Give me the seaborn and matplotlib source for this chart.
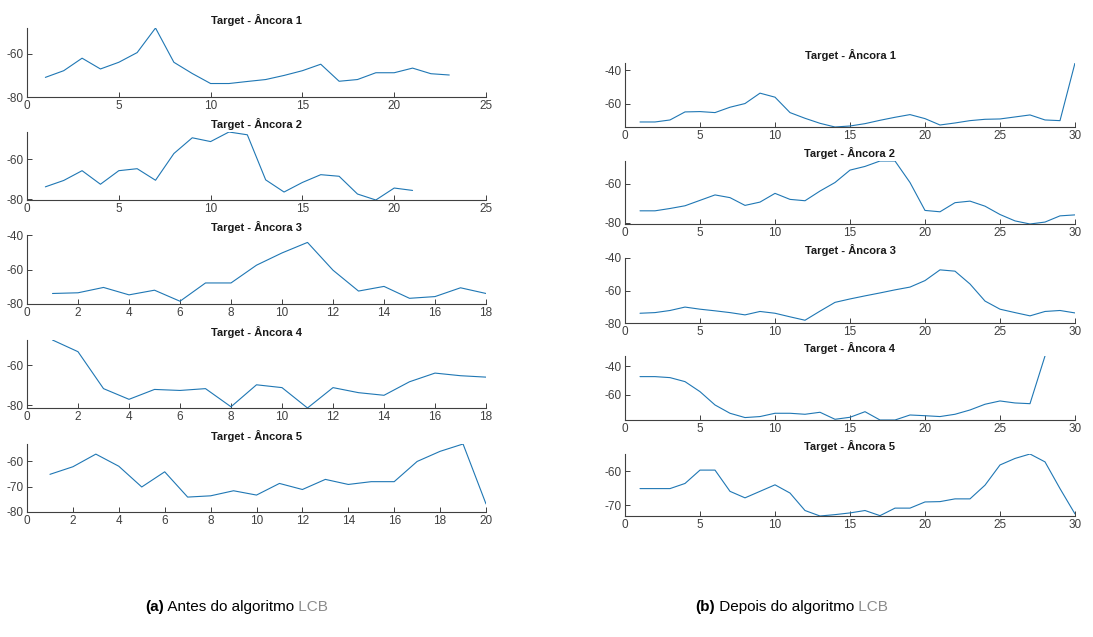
import matplotlib
matplotlib.use("Agg")
import matplotlib.pyplot as plt
import seaborn as sns
from matplotlib.ticker import MultipleLocator

# RSSI readings (dBm) before the LCB algorithm
antes_1 = [-70.9, -67.8, -62.0, -67.0, -63.9, -59.4, -48.0, -63.9, -69.1, -73.75, -73.75, -72.8,
           -71.9, -70.0, -67.8, -64.8, -72.7, -71.9, -68.75, -68.75, -66.6, -69.2, -69.8]
antes_2 = [-73.9, -70.7, -65.8, -72.6, -65.8, -64.8, -70.6, -57.2, -49.3, -51.2, -46.4, -47.8,
           -70.4, -76.5, -71.7, -67.8, -68.6, -77.5, -80.5, -74.5, -75.7]
antes_3 = [-73.9, -73.5, -70.4, -74.7, -72.0, -78.4, -67.8, -67.8, -57.5, -50.4, -44.3, -60.4,
           -72.5, -69.8, -76.7, -75.7, -70.6, -73.9]
antes_4 = [-47.6, -53.4, -71.7, -77.0, -72.1, -72.6, -71.7, -80.7, -69.8, -71.2, -81.3, -71.2,
           -73.7, -75.0, -68.3, -64.0, -65.3, -66.0]
antes_5 = [-65.1, -62.1, -57.1, -61.9, -70.1, -64.1, -74.1, -73.6, -71.6, -73.3, -68.7, -71.1,
           -67.1, -69.1, -68.0, -68.0, -60.0, -56.0, -53.1, -76.8]

# RSSI readings (dBm) after the LCB algorithm
depois_1 = [-70.8, -70.8, -69.6, -64.8, -64.6, -65.2, -62.0, -59.8, -53.6, -56.0, -65.2, -68.6,
            -71.6, -73.8, -73.2, -71.8, -69.8, -68.0, -66.4, -68.8, -72.6, -71.4, -70.0, -69.2,
            -69.0, -67.8, -66.6, -69.6, -70.0, -35.6]
depois_2 = [-73.9, -73.9, -72.7, -71.3, -68.5, -65.7, -67.1, -71.1, -69.4, -64.9, -68.0, -68.7,
            -63.7, -59.3, -52.9, -51.0, -48.2, -48.2, -59.3, -73.7, -74.4, -69.7, -68.9, -71.5,
            -75.8, -79.1, -80.7, -79.7, -76.5, -76.0]
depois_3 = [-74.0, -73.6, -72.3, -70.2, -71.5, -72.5, -73.6, -75.0, -72.9, -74.0, -76.2, -78.3,
            -72.7, -67.3, -65.2, -63.3, -61.5, -59.6, -57.9, -53.9, -47.3, -48.1, -56.0, -66.5,
            -71.5, -73.6, -75.6, -72.9, -72.3, -73.8]
depois_4 = [-47.4, -47.4, -48.1, -50.9, -57.9, -67.2, -73.0, -76.0, -75.3, -73.0, -73.0, -73.7,
            -72.3, -77.2, -75.8, -71.9, -77.7, -77.7, -74.2, -74.7, -75.3, -73.7, -70.7, -66.7,
            -64.4, -65.8, -66.3, -33.0]
depois_5 = [-65.1, -65.1, -65.1, -63.6, -59.7, -59.7, -65.9, -67.8, -65.9, -64.0, -66.4, -71.5,
            -73.1, -72.7, -72.2, -71.5, -73.0, -70.8, -70.8, -69.0, -68.9, -68.1, -68.1, -64.1,
            -58.2, -56.3, -55.0, -57.3, -65.1, -72.5]

antes = [antes_1, antes_2, antes_3, antes_4, antes_5]
depois = [depois_1, depois_2, depois_3, depois_4, depois_5]
antes_xmax = [25, 25, 18, 18, 20]
antes_xstep = [5, 5, 2, 2, 2]
titles = ["Target - Âncora %d" % i for i in range(1, 6)]

ylims_antes = [(-80, -48), (-80.5, -46.4), (-80, -40), (-81.3, -47.6), (-80, -53.1)]
ylims_depois = [(-73.8, -35.6), (-80.7, -48.2), (-80, -40), (-77.7, -33.0), (-73.1, -55.0)]

sns.set_style("white")
plt.rcParams["font.family"] = ["Liberation Sans", "DejaVu Sans"]
plt.rcParams["axes.unicode_minus"] = False

W, H = 1093, 637
fig = plt.figure(figsize=(W / 100, H / 100), dpi=100)

# axes boxes in pixels: (left, top, right, bottom)
left_boxes = [(27, 28, 486, 97), (27, 132, 486, 200), (27, 235, 486, 304),
              (27, 340, 486, 408), (27, 444, 486, 512)]
right_boxes = [(625, 63, 1075, 127), (625, 161, 1075, 224), (625, 258, 1075, 323),
               (625, 356, 1075, 420), (625, 454, 1075, 516)]

LINE = "#1f77b4"
GREY = "#404040"


def make_ax(box):
    l, t, r, b = box
    ax = fig.add_axes([l / W, 1 - b / H, (r - l) / W, (b - t) / H])
    for s in ["top", "right"]:
        ax.spines[s].set_visible(False)
    for s in ["left", "bottom"]:
        ax.spines[s].set_color(GREY)
        ax.spines[s].set_linewidth(0.8)
    ax.tick_params(direction="in", length=3.5, width=0.7, colors=GREY,
                   labelsize=8.5, pad=2.5, left=True, bottom=True)
    return ax


def draw(ax, values, xmax, xstep, ylim, ystep, title):
    xs = list(range(1, len(values) + 1))
    sns.lineplot(x=xs, y=values, ax=ax, color=LINE, linewidth=0.8)
    ax.set_xlim(0, xmax)
    ax.set_ylim(*ylim)
    ax.xaxis.set_major_locator(MultipleLocator(xstep))
    ax.yaxis.set_major_locator(MultipleLocator(ystep))
    ax.set_title(title, fontsize=8, fontweight="bold", pad=3, color="#1a1a1a")
    ax.set_xlabel("")
    ax.set_ylabel("")


for i in range(5):
    ystep = 10 if i == 4 else 20
    draw(make_ax(left_boxes[i]), antes[i], antes_xmax[i], antes_xstep[i],
         ylims_antes[i], ystep, titles[i])
    draw(make_ax(right_boxes[i]), depois[i], 30, 5, ylims_depois[i], ystep, titles[i])


def caption(x, y, parts):
    renderer = fig.canvas.get_renderer()
    for txt, kw in parts:
        t = fig.text(x / W, 1 - y / H, txt, fontsize=11, va="center", **kw)
        bb = t.get_window_extent(renderer=renderer)
        x = bb.x1


caption(145, 607, [("(a)", dict(fontweight="bold", color="black")),
                   (" Antes do algoritmo", dict(color="black")),
                   (" LCB", dict(color="#8c8c8c"))])
caption(695, 607, [("(b)", dict(fontweight="bold", color="black")),
                   (" Depois do algoritmo", dict(color="black")),
                   (" LCB", dict(color="#8c8c8c"))])

fig.savefig("out.png", dpi=100)
